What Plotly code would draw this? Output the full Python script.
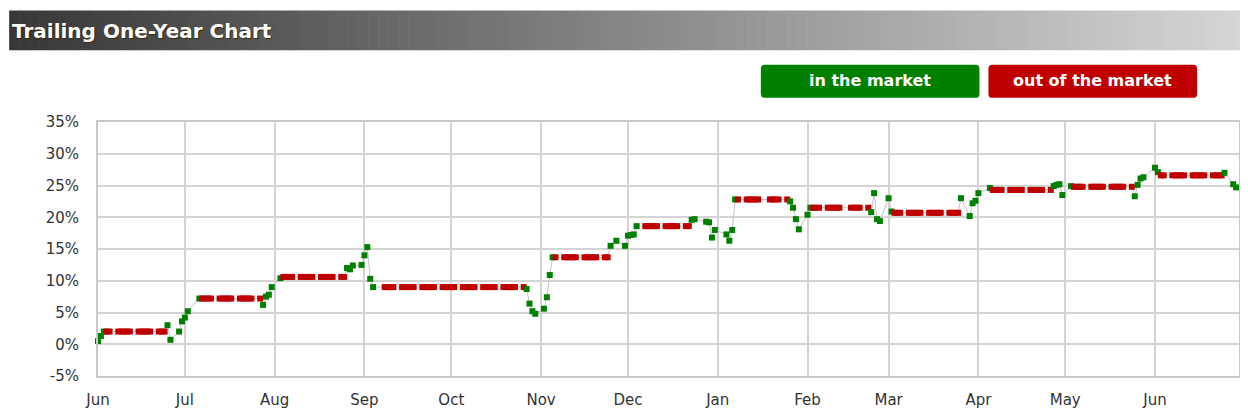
import pandas as pd
import plotly.graph_objects as go

# ---------------- data ----------------
month_ticks = ["2009-06-01", "2009-07-01", "2009-08-01", "2009-09-01", "2009-10-01",
               "2009-11-01", "2009-12-01", "2010-01-01", "2010-02-01", "2010-03-01",
               "2010-04-01", "2010-05-01", "2010-06-01"]
month_labels = ["Jun", "Jul", "Aug", "Sep", "Oct", "Nov", "Dec", "Jan", "Feb", "Mar",
                "Apr", "May", "Jun"]
pct_ticks = [-5, 0, 5, 10, 15, 20, 25, 30, 35]
pct_labels = ["-5%", "0%", "5%", "10%", "15%", "20%", "25%", "30%", "35%"]

market_holidays = ["2009-07-03", "2009-09-07", "2009-11-26", "2009-12-25", "2010-01-01",
                   "2010-01-18", "2010-02-15", "2010-04-02", "2010-05-31"]

# in the market: daily values (%)
in_dates = ["2009-06-01", "2009-06-02", "2009-06-03",
            "2009-06-25", "2009-06-26", "2009-06-29", "2009-06-30", "2009-07-01", "2009-07-02", "2009-07-06",
            "2009-07-28", "2009-07-29", "2009-07-30", "2009-07-31", "2009-08-03",
            "2009-08-26", "2009-08-27", "2009-08-28", "2009-08-31", "2009-09-01", "2009-09-02", "2009-09-03", "2009-09-04",
            "2009-10-27", "2009-10-28", "2009-10-29", "2009-10-30", "2009-11-02", "2009-11-03", "2009-11-04", "2009-11-05",
            "2009-11-25", "2009-11-27", "2009-11-30", "2009-12-01", "2009-12-02", "2009-12-03", "2009-12-04",
            "2009-12-23", "2009-12-24", "2009-12-28", "2009-12-29", "2009-12-30", "2009-12-31", "2010-01-04", "2010-01-05", "2010-01-06", "2010-01-07",
            "2010-01-26", "2010-01-27", "2010-01-28", "2010-01-29", "2010-02-01", "2010-02-02",
            "2010-02-23", "2010-02-24", "2010-02-25", "2010-02-26", "2010-03-01", "2010-03-02",
            "2010-03-26", "2010-03-29", "2010-03-30", "2010-03-31", "2010-04-01", "2010-04-05",
            "2010-04-27", "2010-04-28", "2010-04-29", "2010-04-30", "2010-05-03",
            "2010-05-25", "2010-05-26", "2010-05-27", "2010-05-28", "2010-06-01", "2010-06-02",
            "2010-06-25", "2010-06-28", "2010-06-29"]
in_values = [0.5, 1.3, 2.0,
             3.0, 0.7, 2.0, 3.6, 4.2, 5.2, 7.2,
             6.2, 7.5, 7.8, 9.0, 10.4,
             12.0, 11.8, 12.4, 12.5, 14.0, 15.3, 10.3, 9.0,
             8.7, 6.4, 5.2, 4.8, 5.6, 7.4, 10.9, 13.7,
             15.5, 16.3, 15.5, 17.1, 17.2, 17.3, 18.6,
             19.6, 19.7, 19.3, 19.2, 16.8, 18.0, 17.3, 16.3, 18.0, 22.8,
             22.5, 21.5, 19.7, 18.1, 20.4, 21.5,
             20.8, 23.8, 19.7, 19.4, 23.0, 20.9,
             23.0, 20.2, 22.2, 22.6, 23.8, 24.6,
             24.9, 25.1, 25.2, 23.5, 24.9,
             23.3, 25.1, 26.1, 26.3, 27.8, 27.1,
             27.0, 25.2, 24.7]

# out of the market: first day, last day, flat level (%)
out_first = ["2009-06-04", "2009-07-07", "2009-08-04", "2009-09-08", "2009-11-06", "2009-12-07",
             "2010-01-08", "2010-02-03", "2010-03-03", "2010-04-06", "2010-05-04", "2010-06-03"]
out_last = ["2009-06-24", "2009-07-27", "2009-08-25", "2009-10-26", "2009-11-24", "2009-12-22",
            "2010-01-25", "2010-02-22", "2010-03-25", "2010-04-26", "2010-05-24", "2010-06-24"]
out_level = [2.0, 7.2, 10.6, 9.0, 13.7, 18.6, 22.8, 21.5, 20.7, 24.3, 24.8, 26.6]

x_range = ["2009-06-01", "2010-06-30"]

# ---------------- build series ----------------
GREEN = "#008000"
RED = "#c00000"
hol = pd.to_datetime(market_holidays)
rows = [(pd.Timestamp(d), v, GREEN) for d, v in zip(in_dates, in_values)]
for a, b, lvl in zip(out_first, out_last, out_level):
    for d in pd.bdate_range(a, b):
        if d not in hol:
            rows.append((d, lvl, RED))
df = pd.DataFrame(rows, columns=["date", "val", "col"]).sort_values("date")

# page body has an 8px margin: the figure is placed at (8, 8) in the window
OFF = 8
W, H = 1248 - OFF, 416 - OFF
L, R, T, B = 98 - OFF, 7, 122 - OFF, 32
PW, PH = W - L - R, H - T - B


def px(x):  # x in window pixels
    return (x - OFF - L) / PW


def py(y):  # y in window pixels
    return (H - B - (y - OFF)) / PH


fig = go.Figure()
fig.add_trace(go.Scatter(x=df["date"], y=df["val"], mode="lines",
                         line=dict(color="#c4c4c4", width=1), hoverinfo="skip",
                         showlegend=False, cliponaxis=False))
fig.add_trace(go.Scatter(x=df["date"], y=df["val"], mode="markers",
                         marker=dict(symbol="square", size=6, color=df["col"], line=dict(width=0)),
                         showlegend=False, cliponaxis=False))

shapes = []
# title bar gradient
x0, x1, y0, y1 = 9, 1248, 7, 48
n = 124
for i in range(n):
    a = x0 + (x1 - x0) * i / n
    b = x0 + (x1 - x0) * (i + 1) / n + 0.6
    t = i / (n - 1)
    c = int(56 + (214 - 56) * t)
    shapes.append(dict(type="rect", xref="paper", yref="paper",
                       x0=px(a), x1=px(min(b, x1)), y0=py(y1), y1=py(y0),
                       fillcolor=f"rgb({c},{c},{c})", line=dict(width=0), layer="below"))


def rrect(xa, xb, ya, yb, r, color):
    X = lambda v: px(v)
    Y = lambda v: py(v)
    p = (f"M {X(xa + r)},{Y(ya)} L {X(xb - r)},{Y(ya)} Q {X(xb)},{Y(ya)} {X(xb)},{Y(ya + r)} "
         f"L {X(xb)},{Y(yb - r)} Q {X(xb)},{Y(yb)} {X(xb - r)},{Y(yb)} "
         f"L {X(xa + r)},{Y(yb)} Q {X(xa)},{Y(yb)} {X(xa)},{Y(yb - r)} "
         f"L {X(xa)},{Y(ya + r)} Q {X(xa)},{Y(ya)} {X(xa + r)},{Y(ya)} Z")
    return dict(type="path", xref="paper", yref="paper", path=p,
                fillcolor=color, line=dict(width=0))


shapes.append(rrect(762, 981, 63, 97, 4, GREEN))
shapes.append(rrect(990, 1199, 63, 97, 4, RED))

annotations = [
    dict(text="<b>Trailing One-Year Chart</b>", xref="paper", yref="paper",
         x=px(10), y=py(28), xanchor="left", yanchor="middle", showarrow=False,
         font=dict(family="DejaVu Sans", size=20, color="white", shadow="1px 1px 1px #3a2a10")),
    dict(text="<b>in the market</b>", xref="paper", yref="paper",
         x=px(871.5), y=py(79), xanchor="center", yanchor="middle", showarrow=False,
         font=dict(family="DejaVu Sans", size=16, color="white")),
    dict(text="<b>out of the market</b>", xref="paper", yref="paper",
         x=px(1094.5), y=py(79), xanchor="center", yanchor="middle", showarrow=False,
         font=dict(family="DejaVu Sans", size=16, color="white")),
]

fig.update_layout(
    width=W, height=H, margin=dict(l=L, r=R, t=T, b=B),
    paper_bgcolor="white", plot_bgcolor="white",
    shapes=shapes, annotations=annotations, showlegend=False,
    font=dict(family="DejaVu Sans", size=15, color="#333333"),
)
fig.update_xaxes(type="date", range=x_range, tickvals=month_ticks, ticktext=month_labels,
                 showgrid=True, gridcolor="#d4d4d4", gridwidth=2,
                 showline=True, linecolor="#c8c8c8", linewidth=2, mirror=True,
                 ticks="", zeroline=False, ticklabelstandoff=9,
                 tickfont=dict(size=15, color="#333333"))
fig.update_yaxes(range=[-5, 35], tickvals=pct_ticks, ticktext=pct_labels,
                 showgrid=True, gridcolor="#d4d4d4", gridwidth=2,
                 showline=True, linecolor="#c8c8c8", linewidth=2, mirror=True,
                 ticks="", zeroline=False, ticklabelstandoff=14,
                 tickfont=dict(size=15, color="#333333"))

fig.write_html("out.html")
